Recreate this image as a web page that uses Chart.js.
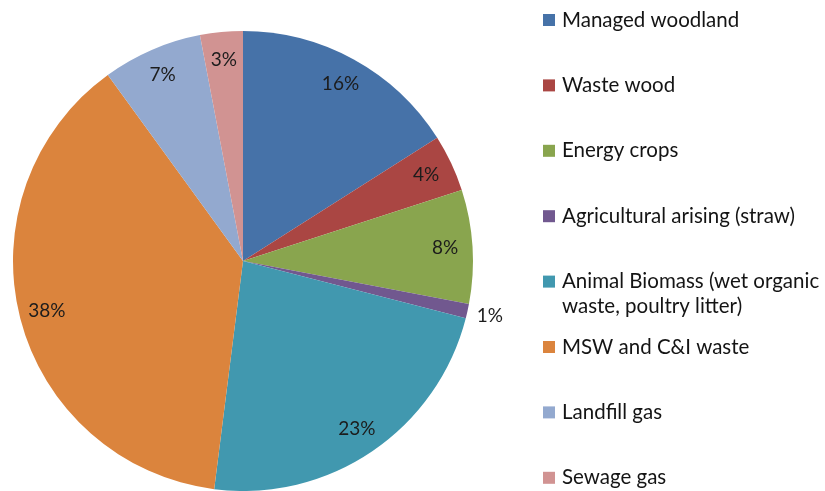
<!DOCTYPE html>
<html>
<head>
<meta charset="utf-8">
<script src="https://cdn.jsdelivr.net/npm/chart.js@4/dist/chart.umd.min.js"></script>
<style>
  html, body { margin: 0; padding: 0; background: #fff; }
  #wrap { width: 825px; height: 491px; }
</style>
</head>
<body>
<div id="wrap"><canvas id="pieChart" width="825" height="491"></canvas></div>
<script>
// Biomass sources, share of total (%)
const sources = [
  'Managed woodland',
  'Waste wood',
  'Energy crops',
  'Agricultural arising (straw)',
  ['Animal Biomass (wet organic', 'waste, poultry litter)'],
  'MSW and C&I waste',
  'Landfill gas',
  'Sewage gas'
];
const shares = [16, 4, 8, 1, 23, 38, 7, 3];
const sliceColours = ['#4672A8', '#AA4643', '#89A54E', '#71588F', '#4198AF', '#DB843D', '#93A9CF', '#D19392'];

const FONT = '"Lato", "Noto Sans", sans-serif';

// percent labels inside each slice (tiny slices get pushed outside)
const sliceLabels = {
  id: 'sliceLabels',
  afterDatasetsDraw(chart) {
    const ctx = chart.ctx;
    const meta = chart.getDatasetMeta(0);
    ctx.save();
    ctx.font = '19px ' + FONT;
    ctx.fillStyle = '#1c1c1c';
    ctx.textAlign = 'center';
    ctx.textBaseline = 'middle';
    meta.data.forEach((arc, i) => {
      const p = arc.getProps(['x', 'y', 'startAngle', 'endAngle', 'outerRadius'], true);
      const mid = (p.startAngle + p.endAngle) / 2;
      const r = shares[i] < 2 ? p.outerRadius * 1.1 : p.outerRadius * 0.88;
      ctx.fillText(shares[i] + '%', p.x + Math.cos(mid) * r, p.y + Math.sin(mid) * r);
    });
    ctx.restore();
  }
};

// legend down the right-hand side
const sideLegend = {
  id: 'sideLegend',
  afterDraw(chart) {
    const ctx = chart.ctx;
    const x0 = 543, top = 20, step = 65.4, lineH = 25;
    ctx.save();
    ctx.font = '20.5px ' + FONT;
    ctx.textBaseline = 'middle';
    ctx.textAlign = 'left';
    sources.forEach((label, i) => {
      const y = top + i * step;
      ctx.fillStyle = sliceColours[i];
      ctx.fillRect(x0, y - 6, 12, 12);
      ctx.fillStyle = '#141414';
      const lines = Array.isArray(label) ? label : [label];
      lines.forEach((ln, k) => ctx.fillText(ln, x0 + 19, y + k * lineH));
    });
    ctx.restore();
  }
};

new Chart(document.getElementById('pieChart'), {
  type: 'pie',
  data: {
    labels: sources.map(s => Array.isArray(s) ? s.join(' ') : s),
    datasets: [{
      data: shares,
      backgroundColor: sliceColours,
      borderWidth: 0
    }]
  },
  options: {
    responsive: false,
    animation: false,
    layout: { padding: { top: 31, bottom: 0, left: 13, right: 352 } },
    plugins: {
      legend: { display: false },
      tooltip: { enabled: false }
    }
  },
  plugins: [sliceLabels, sideLegend]
});
</script>
</body>
</html>
